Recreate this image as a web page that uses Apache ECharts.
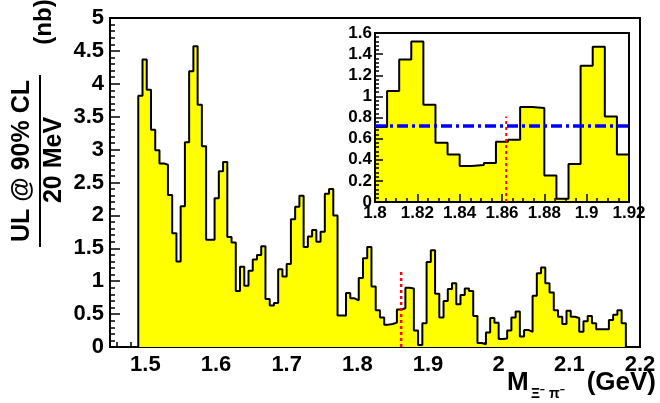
<!DOCTYPE html>
<html>
<head>
<meta charset="utf-8">
<script src="https://cdn.jsdelivr.net/npm/echarts@6/dist/echarts.min.js"></script>
<style>
html,body{margin:0;padding:0;background:#fff;}
#c{width:660px;height:403px;}
</style>
</head>
<body>
<div id="c"></div>
<script>
// ---- data ----
const mainBinStart = 1.49;
const mainBinWidth = 0.006;
const mainValues = [
  3.82, 4.37, 3.91, 3.30, 2.99, 2.79, 2.77, 2.31, 1.73, 1.30,
  2.14, 3.11, 4.19, 4.57, 3.68, 3.05, 1.63, 1.63, 2.26, 2.67,
  2.81, 1.67, 1.59, 0.85, 1.22, 0.93, 1.16, 1.33, 1.40, 1.53,
  0.73, 0.63, 0.67, 1.18, 1.07, 1.26, 1.94, 2.13, 2.30, 1.52,
  1.68, 1.78, 1.60, 1.75, 2.33, 2.40, 2.00, 0.48, 0.48, 0.82,
  0.74, 0.71, 1.05, 1.35, 1.52, 0.92, 0.56, 0.45, 0.34, 0.35,
  0.37, 0.57, 0.59, 0.90, 0.89, 0.25, 0.03, 0.36, 1.29, 1.47,
  0.81, 0.45, 0.70, 0.88, 0.97, 0.65, 0.79, 0.89, 0.85, 0.47,
  0.06, 0.04, 0.22, 0.44, 0.37, 0.12, 0.13, 0.25, 0.45, 0.54,
  0.16, 0.26, 0.23, 0.78, 1.12, 1.21, 0.97, 0.83, 0.56, 0.46,
  0.35, 0.55, 0.46, 0.44, 0.23, 0.39, 0.47, 0.36, 0.27, 0.27,
  0.27, 0.41, 0.49, 0.56, 0.36
];
const insetBinStart = 1.8;
const insetBinWidth = 0.12 / 21;
const insetValues = [
  0.71, 1.05, 1.35, 1.52, 0.92, 0.56, 0.45, 0.34, 0.35, 0.37,
  0.57, 0.59, 0.90, 0.89, 0.25, 0.03, 0.36, 1.29, 1.47, 0.81, 0.45
];
const massLine = 1.862;
const mainMassLineTop = 1.16;
const insetMassLineTop = 0.81;
const insetULLevel = 0.72;
const mainXMajor = [1.5, 1.6, 1.7, 1.8, 1.9, 2.0, 2.1, 2.2];
const mainXMinor = [1.46,1.48,1.52,1.54,1.56,1.58,1.62,1.64,1.66,1.68,1.72,1.74,1.76,1.78,1.82,1.84,1.86,1.88,1.92,1.94,1.96,1.98,2.02,2.04,2.06,2.08,2.12,2.14,2.16,2.18];

// ---- helpers ----
function stepData(start, w, vals) {
  const d = [[start, 0]];
  vals.forEach((v, i) => d.push([start + i * w, v]));
  const end = start + vals.length * w;
  d.push([end, vals[vals.length - 1]]);
  d.push([end, 0]);
  return d;
}

const FONT = '"Liberation Sans", Arial, Helvetica, sans-serif';
const black = '#000';

const chart = echarts.init(document.getElementById('c'), null, {renderer: 'canvas'});

const option = {
  animation: false,
  backgroundColor: '#fff',
  grid: [
    {left: 110, top: 18, width: 530, height: 329, show: true, borderColor: black, borderWidth: 2, backgroundColor: 'transparent'},
    {left: 375, top: 33, width: 254, height: 169, show: true, borderColor: black, borderWidth: 2, backgroundColor: '#fff', z: 5}
  ],
  xAxis: [
    {
      gridIndex: 0, type: 'value', min: 1.45, max: 2.2, position: 'bottom',
      axisLine: {show: true, onZero: false, lineStyle: {color: black, width: 2}},
      axisTick: {show: true, inside: true, length: 10, customValues: mainXMajor, lineStyle: {color: black, width: 1.5}},
      axisLabel: {show: true, customValues: mainXMajor, color: black, fontFamily: FONT, fontWeight: 'bold', fontSize: 22, margin: 7,
        formatter: v => String(Math.round(v * 10) / 10)},
      splitLine: {show: false}
    },
    {
      gridIndex: 0, type: 'value', min: 1.45, max: 2.2, position: 'bottom',
      axisLine: {show: false},
      axisTick: {show: true, inside: true, length: 5, customValues: mainXMinor, lineStyle: {color: black, width: 1.5}},
      axisLabel: {show: false},
      splitLine: {show: false}
    },
    {
      gridIndex: 1, type: 'value', min: 1.8, max: 1.92, interval: 0.02, position: 'bottom',
      axisLine: {show: true, onZero: false, lineStyle: {color: black, width: 2}},
      axisTick: {show: true, inside: true, length: 8, lineStyle: {color: black, width: 1.5}},
      minorTick: {show: true, splitNumber: 4, length: 4, lineStyle: {color: black, width: 1.5}},
      axisLabel: {show: true, color: black, fontFamily: FONT, fontWeight: 'bold', fontSize: 17, margin: 3,
        formatter: v => String(Math.round(v * 100) / 100)},
      splitLine: {show: false}, z: 6
    }
  ],
  yAxis: [
    {
      gridIndex: 0, type: 'value', min: 0, max: 5, interval: 0.5,
      axisLine: {show: true, onZero: false, lineStyle: {color: black, width: 2}},
      axisTick: {show: true, inside: true, length: 10, lineStyle: {color: black, width: 1.5}},
      minorTick: {show: true, splitNumber: 5, length: 5, lineStyle: {color: black, width: 1.5}},
      axisLabel: {color: black, fontFamily: FONT, fontWeight: 'bold', fontSize: 22, margin: 6},
      splitLine: {show: false}
    },
    {
      gridIndex: 1, type: 'value', min: 0, max: 1.6, interval: 0.2,
      axisLine: {show: true, onZero: false, lineStyle: {color: black, width: 2}},
      axisTick: {show: true, inside: true, length: 8, lineStyle: {color: black, width: 1.5}},
      minorTick: {show: true, splitNumber: 5, length: 4, lineStyle: {color: black, width: 1.5}},
      axisLabel: {color: black, fontFamily: FONT, fontWeight: 'bold', fontSize: 17, margin: 3,
        formatter: v => String(Math.round(v * 10) / 10)},
      splitLine: {show: false}, z: 6
    }
  ],
  series: [
    {
      type: 'line', xAxisIndex: 0, yAxisIndex: 0, step: 'end', symbol: 'none',
      data: stepData(mainBinStart, mainBinWidth, mainValues),
      lineStyle: {color: black, width: 2},
      areaStyle: {color: '#ffff00', opacity: 1, origin: 'start'},
      z: 2
    },
    {
      type: 'line', xAxisIndex: 0, yAxisIndex: 0, symbol: 'none',
      data: [[massLine, 0], [massLine, mainMassLineTop]],
      lineStyle: {color: '#ff0000', width: 2.5, type: [3, 3]}, z: 3
    },
    {
      type: 'line', xAxisIndex: 2, yAxisIndex: 1, step: 'end', symbol: 'none',
      data: stepData(insetBinStart, insetBinWidth, insetValues),
      lineStyle: {color: black, width: 2},
      areaStyle: {color: '#ffff00', opacity: 1, origin: 'start'},
      z: 6
    },
    {
      type: 'line', xAxisIndex: 2, yAxisIndex: 1, symbol: 'none',
      data: [[massLine, 0], [massLine, insetMassLineTop]],
      lineStyle: {color: '#ff0000', width: 2, type: [3, 3]}, z: 7
    },
    {
      type: 'line', xAxisIndex: 2, yAxisIndex: 1, symbol: 'none',
      data: [[1.8, insetULLevel], [1.92, insetULLevel]],
      lineStyle: {color: '#0000ff', width: 3.5, type: [11, 4, 3, 4]}, z: 7
    }
  ],
  graphic: [
    {type: 'text', x: 22, y: 161, rotation: Math.PI / 2,
      style: {text: 'UL @ 90% CL', font: 'bold 25px ' + FONT, fill: black, textAlign: 'center', textVerticalAlign: 'middle', align: 'center', verticalAlign: 'middle'}},
    {type: 'line', shape: {x1: 40, y1: 75, x2: 40, y2: 247}, style: {stroke: black, lineWidth: 2}},
    {type: 'text', x: 54, y: 160, rotation: Math.PI / 2,
      style: {text: '20 MeV', font: 'bold 25px ' + FONT, fill: black, textAlign: 'center', textVerticalAlign: 'middle', align: 'center', verticalAlign: 'middle'}},
    {type: 'text', x: 44, y: 22, rotation: Math.PI / 2,
      style: {text: '(nb)', font: 'bold 24px ' + FONT, fill: black, textAlign: 'center', textVerticalAlign: 'middle', align: 'center', verticalAlign: 'middle'}},
    {type: 'text', x: 507, y: 383,
      style: {text: 'M', font: 'bold 26px ' + FONT, fill: black, textAlign: 'left', textVerticalAlign: 'middle', align: 'left', verticalAlign: 'middle'}},
    {type: 'text', x: 531, y: 394,
      style: {text: 'Ξ⁻ π⁻', font: 'bold 14px ' + FONT, fill: black, textAlign: 'left', textVerticalAlign: 'middle', align: 'left', verticalAlign: 'middle'}},
    {type: 'text', x: 656, y: 383,
      style: {text: '(GeV)', font: 'bold 26px ' + FONT, fill: black, textAlign: 'right', textVerticalAlign: 'middle', align: 'right', verticalAlign: 'middle'}}
  ]
};
chart.setOption(option);
</script>
</body>
</html>
